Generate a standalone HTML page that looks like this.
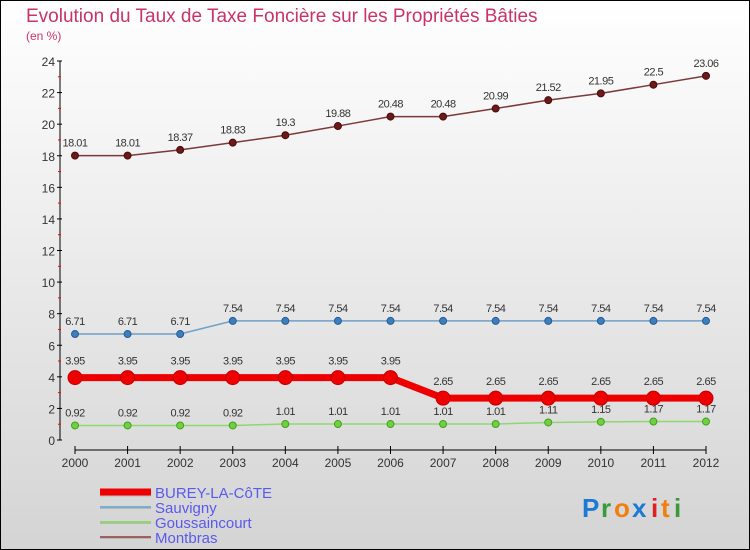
<!DOCTYPE html>
<html><head><meta charset="utf-8"><style>
body{margin:0;}
#wrap{width:750px;height:550px;position:relative;overflow:hidden;font-family:"Liberation Sans",sans-serif;}
svg text{font-family:"Liberation Sans",sans-serif;}
</style></head><body>
<div id="wrap">
<svg id="chart" width="750" height="550">
<defs><linearGradient id="bg" x1="0" y1="0" x2="0" y2="1"><stop offset="0" stop-color="#ffffff"/><stop offset="1" stop-color="#d4d4d4"/></linearGradient></defs>
<rect x="0.5" y="0.5" width="749" height="549" fill="url(#bg)" stroke="#000"/>
<text x="26" y="22" font-size="19" fill="#c8336a">Evolution du Taux de Taxe Foncière sur les Propriétés Bâties</text>
<text x="26" y="40" font-size="12" fill="#c8336a">(en %)</text>
<g id="axes"></g><g id="series"></g><g id="legend"></g>
<g font-size="26" font-weight="bold">
<text x="582" y="517" fill="#1a7ad4">P</text><text x="601" y="517" fill="#3a9a3a">r</text><text x="614" y="517" fill="#f07f10">o</text><text x="632" y="517" fill="#1a7ad4">x</text><text x="651" y="517" fill="#e02020">i</text><text x="661" y="517" fill="#f07f10">t</text><text x="674" y="517" fill="#3a9a3a">i</text>
</g>
</svg></div>
<script>
const years=[2000,2001,2002,2003,2004,2005,2006,2007,2008,2009,2010,2011,2012];
const yTicks=[0,2,4,6,8,10,12,14,16,18,20,22,24];
const burey=[3.95,3.95,3.95,3.95,3.95,3.95,3.95,2.65,2.65,2.65,2.65,2.65,2.65];
const sauvigny=[6.71,6.71,6.71,7.54,7.54,7.54,7.54,7.54,7.54,7.54,7.54,7.54,7.54];
const gouss=[0.92,0.92,0.92,0.92,1.01,1.01,1.01,1.01,1.01,1.11,1.15,1.17,1.17];
const montbras=[18.01,18.01,18.37,18.83,19.3,19.88,20.48,20.48,20.99,21.52,21.95,22.5,23.06];
const seriesNames=["BUREY-LA-CôTE","Sauvigny","Goussaincourt","Montbras"];
const NS="http://www.w3.org/2000/svg";
const x=i=>75+i*(706-75)/(years.length-1);
const y=v=>440-v*(440-61)/24;
function mk(tag,attrs,parent){const e=document.createElementNS(NS,tag);for(const k in attrs)e.setAttribute(k,attrs[k]);parent.appendChild(e);return e;}
const axes=document.getElementById('axes');
let yl=mk('line',{x1:60,y1:61,x2:60,y2:440,stroke:'#000'},axes);


yTicks.forEach(t=>{
  mk('line',{x1:57,x2:62,y1:y(t),y2:y(t),stroke:'#000'},axes);
  if(t<24)mk('line',{x1:58,x2:61,y1:y(t+1),y2:y(t+1),stroke:'#f00'},axes);
  const tx=mk('text',{x:55,y:y(t)+5,'font-size':12,'text-anchor':'end',fill:'#333'},axes);
  tx.textContent=t;
  
  
});
let xl=mk('line',{x1:75,y1:450,x2:706,y2:450,stroke:'#000'},axes);


years.forEach((yr,i)=>{
  mk('line',{x1:x(i),x2:x(i),y1:446,y2:454,stroke:'#000'},axes);
  const tx=mk('text',{x:x(i),y:467,'font-size':12,'text-anchor':'middle',fill:'#333'},axes);
  tx.textContent=yr;
  
  
});
const sg=document.getElementById('series');
function draw(vals,name,color,w,r,dot,dotStroke){
  const g=mk('g',{},sg);
  
  
  mk('polyline',{points:vals.map((v,i)=>x(i)+','+y(v)).join(' '),fill:'none',stroke:color,'stroke-width':w},g);
  vals.forEach((v,i)=>{
    const c=mk('circle',{cx:x(i),cy:y(v),r:r,fill:dot,stroke:dotStroke,'stroke-width':1},g);
    
    
    const t=mk('text',{x:x(i),y:y(v)-9-(r>5?4:0),'font-size':11,'text-anchor':'middle',fill:'#333','letter-spacing':'-0.5'},g);
    t.textContent=String(v);
    
    
  });
}
draw(montbras,'montbras','#7b3a3a',1.5,3.5,'#6b1a1a','#4a0a0a');
draw(sauvigny,'sauvigny','#6fa0c8',1.5,3.5,'#3a80c0','#2a5a90');
draw(gouss,'goussaincourt','#8fd870',1.5,3.5,'#70d040','#40a020');
draw(burey,'burey-la-cote','#ee0000',7,7,'#ee0000','#c00000');
const lg=document.getElementById('legend');
const lc=['#ee0000','#7aaed0','#8fd870','#a06060'],lw=[7,2,2,2];
seriesNames.forEach((n,i)=>{
  const g=mk('g',{},lg);
  
  
  const yy=492+i*15;
  mk('line',{x1:100,x2:151,y1:yy+1,y2:yy+1,stroke:'#999','stroke-width':lw[i],opacity:0.5},g);
  mk('line',{x1:100,x2:151,y1:yy,y2:yy,stroke:lc[i],'stroke-width':lw[i]},g);
  const t=mk('text',{x:155,y:yy+6,'font-size':15,fill:'#5a5aee'},g);
  t.textContent=n;
});
</script>
</body></html>
